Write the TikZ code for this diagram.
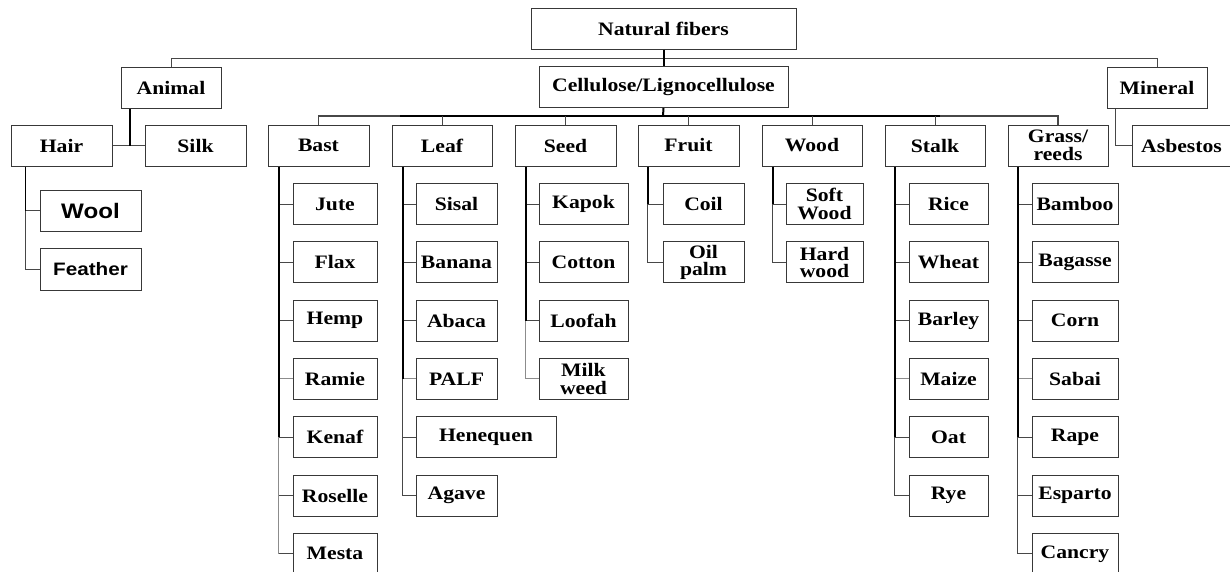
\documentclass[tikz,border=0pt]{standalone}
\usepackage{fontspec}
\setmainfont{Liberation Serif}[FakeStretch=1.14]
\newfontfamily\wsans{Liberation Sans}[FakeStretch=1.15]
\begin{document}
\begin{tikzpicture}[x=1pt,y=-1pt,
  box/.style={draw=black!78, line width=1pt, fill=white, inner sep=0pt, align=center,
    minimum height=41pt, font=\fontsize{19}{17.5}\selectfont\bfseries},
  conn/.style={draw=black!72, line width=1pt},
  trunk/.style={draw=black, line width=2pt},
  light/.style={draw=black!45, line width=1pt}]
\useasboundingbox (0,0) rectangle (1230,571);
\newcommand\bx[5]{\node[box, minimum width={(#3-#2)*1pt}] (#1) at ({(#2+#3)/2},#4) {#5};}
% level 0/1
\bx{nat}{531}{796}{28.5}{Natural fibers}
\bx{animal}{121}{221}{87.5}{Animal}
\bx{cell}{539}{788}{87}{Cellulose/Lignocellulose}
\bx{mineral}{1107}{1207}{87.5}{Mineral}
% level 2
\bx{hair}{11}{112}{145.5}{Hair}
\bx{silk}{145}{246}{145.5}{Silk}
\bx{bast}{268}{369}{145.5}{Bast}
\bx{leaf}{392}{492}{145.5}{Leaf}
\bx{seed}{515}{616}{145.5}{Seed}
\bx{fruit}{638}{739}{145.5}{Fruit}
\bx{wood}{762}{862}{145.5}{Wood}
\bx{stalk}{885}{985}{145.5}{Stalk}
\bx{grass}{1008}{1108}{145.5}{Grass/\\reeds}
\bx{asb}{1132}{1231}{145.5}{Asbestos}
% hair
\node[box, minimum width=101pt, font=\wsans\fontsize{21}{22}\selectfont\bfseries] (wool) at (90.5,210.5) {Wool};
\node[box, minimum width=101pt, minimum height=42pt, font=\wsans\fontsize{18}{20}\selectfont\bfseries] (feather) at (90.5,269) {Feather};
% rows
\def\ra{204}\def\rb{262.3}\def\rc{320.6}\def\rd{378.9}\def\re{437.2}\def\rf{495.5}\def\rg{553.8}
% bast
\bx{jute}{293}{377}{\ra}{Jute}
\bx{flax}{293}{377}{\rb}{Flax}
\bx{hemp}{293}{377}{\rc}{Hemp}
\bx{ramie}{293}{377}{\rd}{Ramie}
\bx{kenaf}{293}{377}{\re}{Kenaf}
\bx{roselle}{293}{377}{\rf}{Roselle}
\bx{mesta}{293}{377}{\rg}{Mesta}
% leaf
\bx{sisal}{416}{497}{\ra}{Sisal}
\bx{banana}{416}{497}{\rb}{Banana}
\bx{abaca}{416}{497}{\rc}{Abaca}
\bx{palf}{416}{497}{\rd}{PALF}
\bx{henequen}{416}{556}{\re}{Henequen}
\bx{agave}{416}{497}{\rf}{Agave}
% seed
\bx{kapok}{539}{628}{\ra}{Kapok}
\bx{cotton}{539}{628}{\rb}{Cotton}
\bx{loofah}{539}{628}{\rc}{Loofah}
\bx{milk}{539}{628}{\rd}{Milk\\weed}
% fruit
\bx{coil}{663}{744}{\ra}{Coil}
\bx{oil}{663}{744}{\rb}{Oil\\palm}
% wood
\bx{soft}{786}{863}{\ra}{Soft\\Wood}
\bx{hard}{786}{863}{\rb}{Hard\\wood}
% stalk
\bx{rice}{909}{988}{\ra}{Rice}
\bx{wheat}{909}{988}{\rb}{Wheat}
\bx{barley}{909}{988}{\rc}{Barley}
\bx{maize}{909}{988}{\rd}{Maize}
\bx{oat}{909}{988}{\re}{Oat}
\bx{rye}{909}{988}{\rf}{Rye}
% grass
\bx{bamboo}{1032}{1118}{\ra}{Bamboo}
\bx{bagasse}{1032}{1118}{\rb}{Bagasse}
\bx{corn}{1032}{1118}{\rc}{Corn}
\bx{sabai}{1032}{1118}{\rd}{Sabai}
\bx{rape}{1032}{1118}{\re}{Rape}
\bx{esparto}{1032}{1118}{\rf}{Esparto}
\bx{cancry}{1032}{1118}{\rg}{Cancry}
% top connectors
\coordinate (tb) at (663,58);
\coordinate (cb) at (663,116);
\draw[conn] (animal.north) -- (animal.north |- tb) -- (mineral.north |- tb) -- (mineral.north);
\draw[trunk] (nat.south) -- (cell.north);
\draw[trunk] (cell.south) -- (cb);
\draw[conn, line width=1.2pt] (bast.north) -- (bast.north |- cb) -- (grass.north |- cb) -- (grass.north);
\draw[trunk, line width=1.6pt] (400,116) -- (940,116);
\foreach \n in {leaf,seed,fruit,wood,stalk}{\draw[conn] (\n.north) -- (\n.north |- cb);}
% animal / mineral
\coordinate (aT) at ([xshift=9pt]animal.south west);
\draw[conn] (hair.east) -- (silk.west);
\draw[trunk] (aT) -- (aT |- hair.east);
\coordinate (mT) at ([xshift=9pt]mineral.south west);
\draw[conn, line width=1.2pt] (mT) |- (asb.west);
% hair
\coordinate (hT) at ([xshift=15pt]hair.south west);
\draw[conn] (hT) |- (wool.west);
\draw[conn] (hT) |- (feather.west);
\draw[trunk, line width=1.6pt] (hT) -- (hT |- wool.west);
% bast
\coordinate (bT) at ([xshift=11pt]bast.south west);
\foreach \n in {jute,flax,hemp,kenaf,roselle,mesta}{\draw[conn] (bT |- \n.west) -- (\n.west);}
\draw[light] (bT |- ramie.west) -- (ramie.west);
\draw[light] (bT |- kenaf.west) -- (bT |- mesta.west);
\draw[trunk] (bT) -- (bT |- kenaf.west);
% leaf
\coordinate (lT) at ([xshift=11pt]leaf.south west);
\foreach \n in {sisal,banana,abaca,henequen,agave}{\draw[conn] (lT |- \n.west) -- (\n.west);}
\draw[light] (lT |- palf.west) -- (palf.west);
\draw[conn] (lT |- palf.west) -- (lT |- agave.west);
\draw[trunk] (lT) -- (lT |- palf.west);
% seed
\coordinate (sT) at ([xshift=11pt]seed.south west);
\foreach \n in {kapok,cotton,loofah}{\draw[conn] (sT |- \n.west) -- (\n.west);}
\draw[light] (sT |- loofah.west) -- (sT |- milk.west) -- (milk.west);
\draw[trunk] (sT) -- (sT |- loofah.west);
% fruit
\coordinate (fT) at ([xshift=10pt]fruit.south west);
\draw[conn] (fT |- coil.west) -- (coil.west);
\draw[conn] (fT |- coil.west) |- (oil.west);
\draw[trunk] (fT) -- (fT |- coil.west);
% wood
\coordinate (wT) at ([xshift=11pt]wood.south west);
\draw[conn] (wT |- soft.west) -- (soft.west);
\draw[conn] (wT |- soft.west) |- (hard.west);
\draw[trunk] (wT) -- (wT |- soft.west);
% stalk
\coordinate (kT) at ([xshift=10pt]stalk.south west);
\foreach \n in {rice,wheat,barley,oat,rye}{\draw[conn] (kT |- \n.west) -- (\n.west);}
\draw[light] (kT |- maize.west) -- (maize.west);
\draw[conn] (kT |- oat.west) -- (kT |- rye.west);
\draw[trunk] (kT) -- (kT |- oat.west);
% grass
\coordinate (gT) at ([xshift=10pt]grass.south west);
\foreach \n in {bamboo,bagasse,corn,rape,esparto,cancry}{\draw[conn] (gT |- \n.west) -- (\n.west);}
\draw[light] (gT |- sabai.west) -- (sabai.west);
\draw[conn] (gT |- rape.west) -- (gT |- cancry.west);
\draw[trunk] (gT) -- (gT |- rape.west);
\end{tikzpicture}
\end{document}
